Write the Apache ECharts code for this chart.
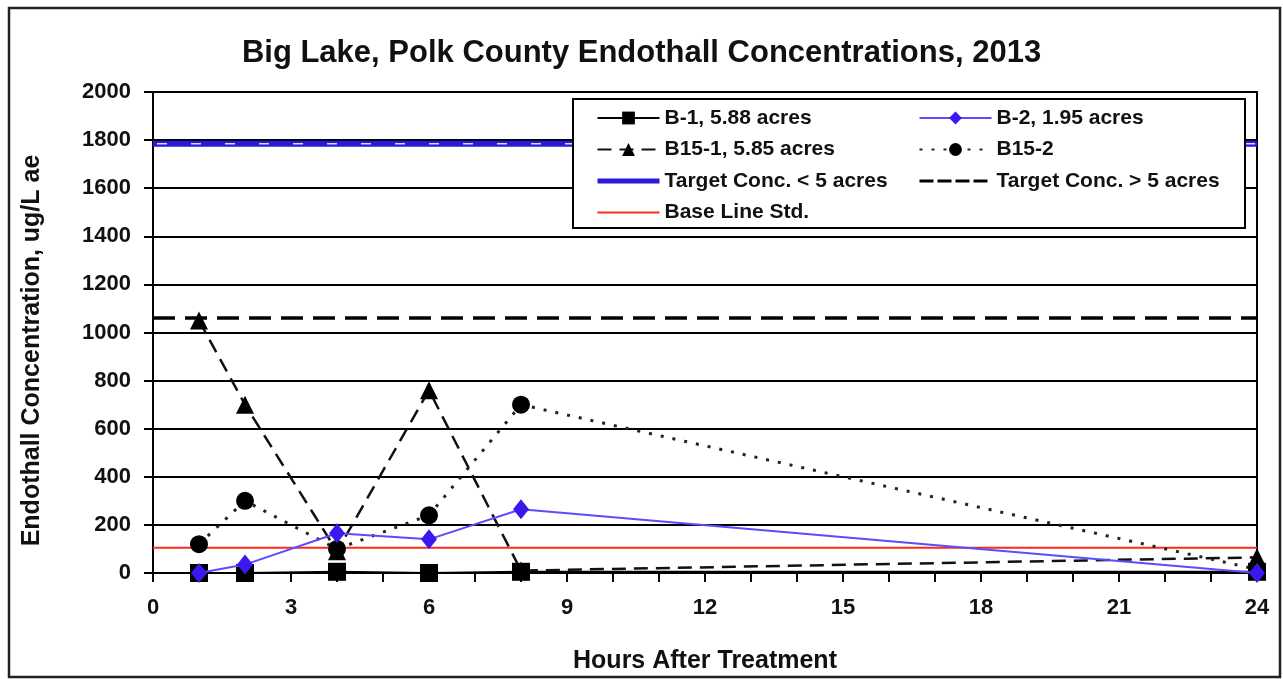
<!DOCTYPE html>
<html>
<head>
<meta charset="utf-8">
<script src="https://cdn.jsdelivr.net/npm/echarts@6/dist/echarts.min.js"></script>
<style>
  html, body { margin: 0; padding: 0; background: #fff; }
  #chart { width: 1283px; height: 679px; }
</style>
</head>
<body>
<div id="chart"></div>
<script>
// Sampling times (hours after treatment)
const hours = [1, 2, 4, 6, 8, 24];

// Endothall concentrations, ug/L ae, per site
const b1 = [0, 0, 5, 0, 5, 5];
const b2 = [0, 35, 165, 140, 265, 0];
const b151 = [1050, 700, 90, 760, 10, 65];
const b152 = [120, 300, 100, 240, 700, 15];

// Reference levels
const targetSmall = 1785;   // target concentration, plots < 5 acres
const targetLarge = 1060;   // target concentration, plots > 5 acres
const baseLine = 105;       // base line standard
const xRange = [0, 24];

// Axis ticks
const yTicks = [0, 200, 400, 600, 800, 1000, 1200, 1400, 1600, 1800, 2000];
const xLabelStep = 3;

const names = {
  b1: 'B-1, 5.88 acres',
  b2: 'B-2, 1.95 acres',
  b151: 'B15-1, 5.85 acres',
  b152: 'B15-2',
  tSmall: 'Target Conc. < 5 acres',
  tLarge: 'Target Conc. > 5 acres',
  base: 'Base Line Std.'
};

const BLUE_T = '#2a1ad8';
const RED = '#ff2a1a';

const pairs = (xs, ys) => xs.map((x, i) => [x, ys[i]]);
const flat = v => xRange.map(x => [x, v]);

const FONT = "'Liberation Sans', Arial, sans-serif";
const chart = echarts.init(document.getElementById('chart'), null, { renderer: 'canvas' });

const plot = { left: 153, top: 92, width: 1104, height: 481 };
const yMin = yTicks[0], yMax = yTicks[yTicks.length - 1], yStep = yTicks[1] - yTicks[0];

const legendText = { fontFamily: FONT, fontSize: 21, fontWeight: 'bold', color: '#111', lineHeight: 22 };
const noMarker = { opacity: 0 };

const option = {
  backgroundColor: '#fff',
  animation: false,
  title: {
    text: 'Big Lake, Polk County Endothall Concentrations, 2013',
    left: 'center',
    top: 33,
    textStyle: { fontFamily: FONT, fontSize: 31, fontWeight: 'bold', color: '#111' }
  },
  grid: {
    left: plot.left, top: plot.top, width: plot.width, height: plot.height,
    show: true, borderColor: '#000', borderWidth: 2, backgroundColor: '#fff'
  },
  xAxis: {
    type: 'value',
    min: xRange[0], max: xRange[1], interval: 1,
    name: 'Hours After Treatment',
    nameLocation: 'middle',
    nameGap: 76,
    nameTextStyle: { fontFamily: FONT, fontSize: 25, fontWeight: 'bold', color: '#111' },
    axisLine: { show: true, onZero: false, lineStyle: { color: '#000', width: 2 } },
    axisTick: { show: true, inside: false, length: 9, lineStyle: { color: '#000', width: 2 } },
    axisLabel: {
      margin: 24,
      fontFamily: FONT, fontSize: 22, fontWeight: 'bold', color: '#111',
      formatter: v => (v % xLabelStep === 0 ? String(v) : '')
    },
    splitLine: { show: false }
  },
  yAxis: [
    {
      type: 'value',
      min: yMin, max: yMax, interval: yStep,
      name: 'Endothall Concentration, ug/L ae',
      nameLocation: 'middle',
      nameGap: 108,
      nameTextStyle: { fontFamily: FONT, fontSize: 25, fontWeight: 'bold', color: '#111', padding: [0, 36, 0, 0] },
      axisLine: { show: true, lineStyle: { color: '#000', width: 2 } },
      axisTick: { show: true, inside: false, length: 9, lineStyle: { color: '#000', width: 2 } },
      axisLabel: {
        margin: 22, fontFamily: FONT, fontSize: 22, fontWeight: 'bold', color: '#111',
        formatter: v => String(v)
      },
      splitLine: { show: true, lineStyle: { color: '#000', width: 2 } }
    },
    {
      // inner half of the crossing tick marks on the value axis
      type: 'value',
      position: 'left',
      min: yMin, max: yMax, interval: yStep,
      axisLine: { show: false },
      axisTick: { show: true, inside: true, length: 9, lineStyle: { color: '#000', width: 2 } },
      axisLabel: { show: false },
      splitLine: { show: false }
    }
  ],
  legend: [
    {
      data: [
        { name: names.b1 },
        { name: names.b151 },
        { name: names.tSmall, itemStyle: noMarker, lineStyle: { width: 5, color: BLUE_T } },
        { name: names.base, itemStyle: noMarker }
      ],
      orient: 'vertical',
      left: 595, top: 107,
      padding: 0,
      itemWidth: 62, itemHeight: 16, itemGap: 9.5,
      z: 60,
      textStyle: legendText
    },
    {
      data: [
        { name: names.b2 },
        { name: names.b152 },
        { name: names.tLarge, itemStyle: noMarker, lineStyle: { width: 3, type: [14, 4] } }
      ],
      orient: 'vertical',
      left: 918, top: 107,
      padding: 0,
      itemWidth: 72, itemHeight: 16, itemGap: 9.5,
      z: 60,
      textStyle: legendText
    }
  ],
  graphic: [
    {
      type: 'rect', z: 50, silent: true,
      shape: { x: 573, y: 99, width: 672, height: 129 },
      style: { fill: '#fff', stroke: '#000', lineWidth: 2 }
    },
    {
      type: 'rect', z: 100, silent: true,
      shape: { x: 9, y: 8, width: 1271, height: 669 },
      style: { fill: 'none', stroke: '#222', lineWidth: 2.5 }
    }
  ],
  series: [
    {
      name: names.tSmall, type: 'line', data: flat(targetSmall),
      showSymbol: false, symbol: 'none', z: 3,
      itemStyle: { color: BLUE_T },
      lineStyle: { color: BLUE_T, width: 6 }
    },
    {
      // light dash accent inside the thick target line
      name: names.tSmall, type: 'line', data: flat(targetSmall),
      showSymbol: false, symbol: 'none', z: 4, silent: true,
      itemStyle: { color: BLUE_T },
      lineStyle: { color: '#d8d8ff', width: 1.5, type: [10, 24], dashOffset: -4 }
    },
    {
      name: names.tLarge, type: 'line', data: flat(targetLarge),
      showSymbol: false, symbol: 'none', z: 3,
      itemStyle: { color: '#000' },
      lineStyle: { color: '#000', width: 3.5, type: [22, 10] }
    },
    {
      name: names.base, type: 'line', data: flat(baseLine),
      showSymbol: false, symbol: 'none', z: 3,
      itemStyle: { color: RED },
      lineStyle: { color: RED, width: 2 }
    },
    {
      name: names.b1, type: 'line', data: pairs(hours, b1), z: 5,
      symbol: 'rect', symbolSize: 18,
      itemStyle: { color: '#000' },
      lineStyle: { color: '#000', width: 2 }
    },
    {
      name: names.b2, type: 'line', data: pairs(hours, b2), z: 6,
      symbol: 'diamond', symbolSize: [16, 20],
      itemStyle: { color: '#3b18ee' },
      lineStyle: { color: '#5a4cff', width: 2 }
    },
    {
      name: names.b151, type: 'line', data: pairs(hours, b151), z: 5,
      symbol: 'triangle', symbolSize: 18,
      itemStyle: { color: '#000' },
      lineStyle: { color: '#111', width: 2.5, type: [14, 8] }
    },
    {
      name: names.b152, type: 'line', data: pairs(hours, b152), z: 5,
      symbol: 'circle', symbolSize: 18,
      itemStyle: { color: '#000' },
      lineStyle: { color: '#222', width: 3, type: [3, 9] }
    }
  ]
};

chart.setOption(option);
</script>
</body>
</html>
